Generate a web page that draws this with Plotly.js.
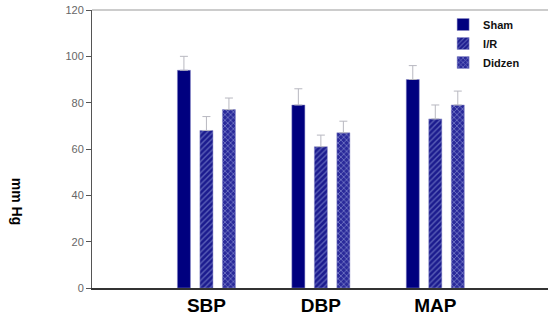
<!DOCTYPE html>
<html>
<head>
<meta charset="utf-8">
<script src="https://cdn.plot.ly/plotly-3.0.1.min.js"></script>
<style>html,body{margin:0;padding:0;background:#fff;}#chart{width:548px;height:327px;}</style>
</head>
<body>
<div id="chart"></div>
<script>
// Blood pressure measures per group (mean and upper SD)
const categories = ['SBP', 'DBP', 'MAP'];
const shamMean = [94, 79, 90];
const shamErr = [6, 7, 6];
const irMean = [68, 61, 73];
const irErr = [6, 5, 6];
const didzenMean = [77, 67, 79];
const didzenErr = [5, 5, 6];
const yTicks = [0, 20, 40, 60, 80, 100, 120];

const xPos = categories.map((_, i) => i);
const errStyle = (arr) => ({
  type: 'data', array: arr, arrayminus: arr.map(() => 0), symmetric: false,
  color: '#b8b8c0', thickness: 1, width: 4
});

const traces = [
  {
    type: 'bar', name: 'Sham', x: xPos, y: shamMean,
    marker: {color: '#00007f', line: {color: '#8c8cc8', width: 0.5}},
    error_y: errStyle(shamErr)
  },
  {
    type: 'bar', name: 'I/R', x: xPos, y: irMean,
    marker: {color: '#1b1b8e', line: {color: '#8c8cc8', width: 0.5},
      pattern: {shape: '/', bgcolor: '#1b1b8e', fgcolor: '#9aa4e0', size: 4, solidity: 0.35, fillmode: 'overlay'}},
    error_y: errStyle(irErr)
  },
  {
    type: 'bar', name: 'Didzen', x: xPos, y: didzenMean,
    marker: {color: '#2a2a9a', line: {color: '#8c8cc8', width: 0.5},
      pattern: {shape: 'x', bgcolor: '#2a2a9a', fgcolor: '#b0b8ea', size: 4, solidity: 0.4, fillmode: 'overlay'}},
    error_y: errStyle(didzenErr)
  }
];

const layout = {
  width: 548, height: 327,
  margin: {l: 92, r: 0, t: 10, b: 39},
  paper_bgcolor: '#fff', plot_bgcolor: '#fff',
  barmode: 'group', bargap: 0.41, bargroupgap: 0.42,
  showlegend: true,
  legend: {
    x: 0.77, y: 1.0, xanchor: 'left', yanchor: 'top',
    font: {family: 'Liberation Sans, Arial, sans-serif', size: 11, color: '#111', weight: 'bold'},
    bgcolor: 'rgba(0,0,0,0)', tracegroupgap: 0, itemwidth: 30
  },
  xaxis: {
    range: [-1.0, 2.985], tickvals: xPos, ticktext: categories,
    showgrid: false, zeroline: false, ticks: '',
    showline: true, linecolor: '#333', linewidth: 1.5,
    mirror: false, fixedrange: true,
    tickfont: {family: 'Liberation Sans, Arial, sans-serif', size: 19, color: '#000', weight: 'bold'}
  },
  yaxis: {
    range: [0, 120], tickvals: yTicks, showgrid: false, zeroline: false,
    ticks: 'outside', ticklen: 5, tickcolor: '#555', tickwidth: 1,
    showline: true, linecolor: '#555', linewidth: 1,
    tickfont: {family: 'Liberation Sans, Arial, sans-serif', size: 11, color: '#666'}
  },
  shapes: [
    {type: 'line', xref: 'paper', yref: 'paper', x0: 0, x1: 1, y0: 1, y1: 1,
     line: {color: '#999', width: 1}}
  ],
  annotations: [
    {text: 'mm Hg', xref: 'paper', yref: 'paper', x: -0.164, y: 0.313,
     xanchor: 'center', yanchor: 'middle',
     showarrow: false, textangle: 90,
     font: {family: 'Liberation Sans, Arial, sans-serif', size: 14, color: '#000', weight: 'bold'}}
  ]
};

Plotly.newPlot('chart', traces, layout, {displayModeBar: false, staticPlot: true});
</script>
</body>
</html>
